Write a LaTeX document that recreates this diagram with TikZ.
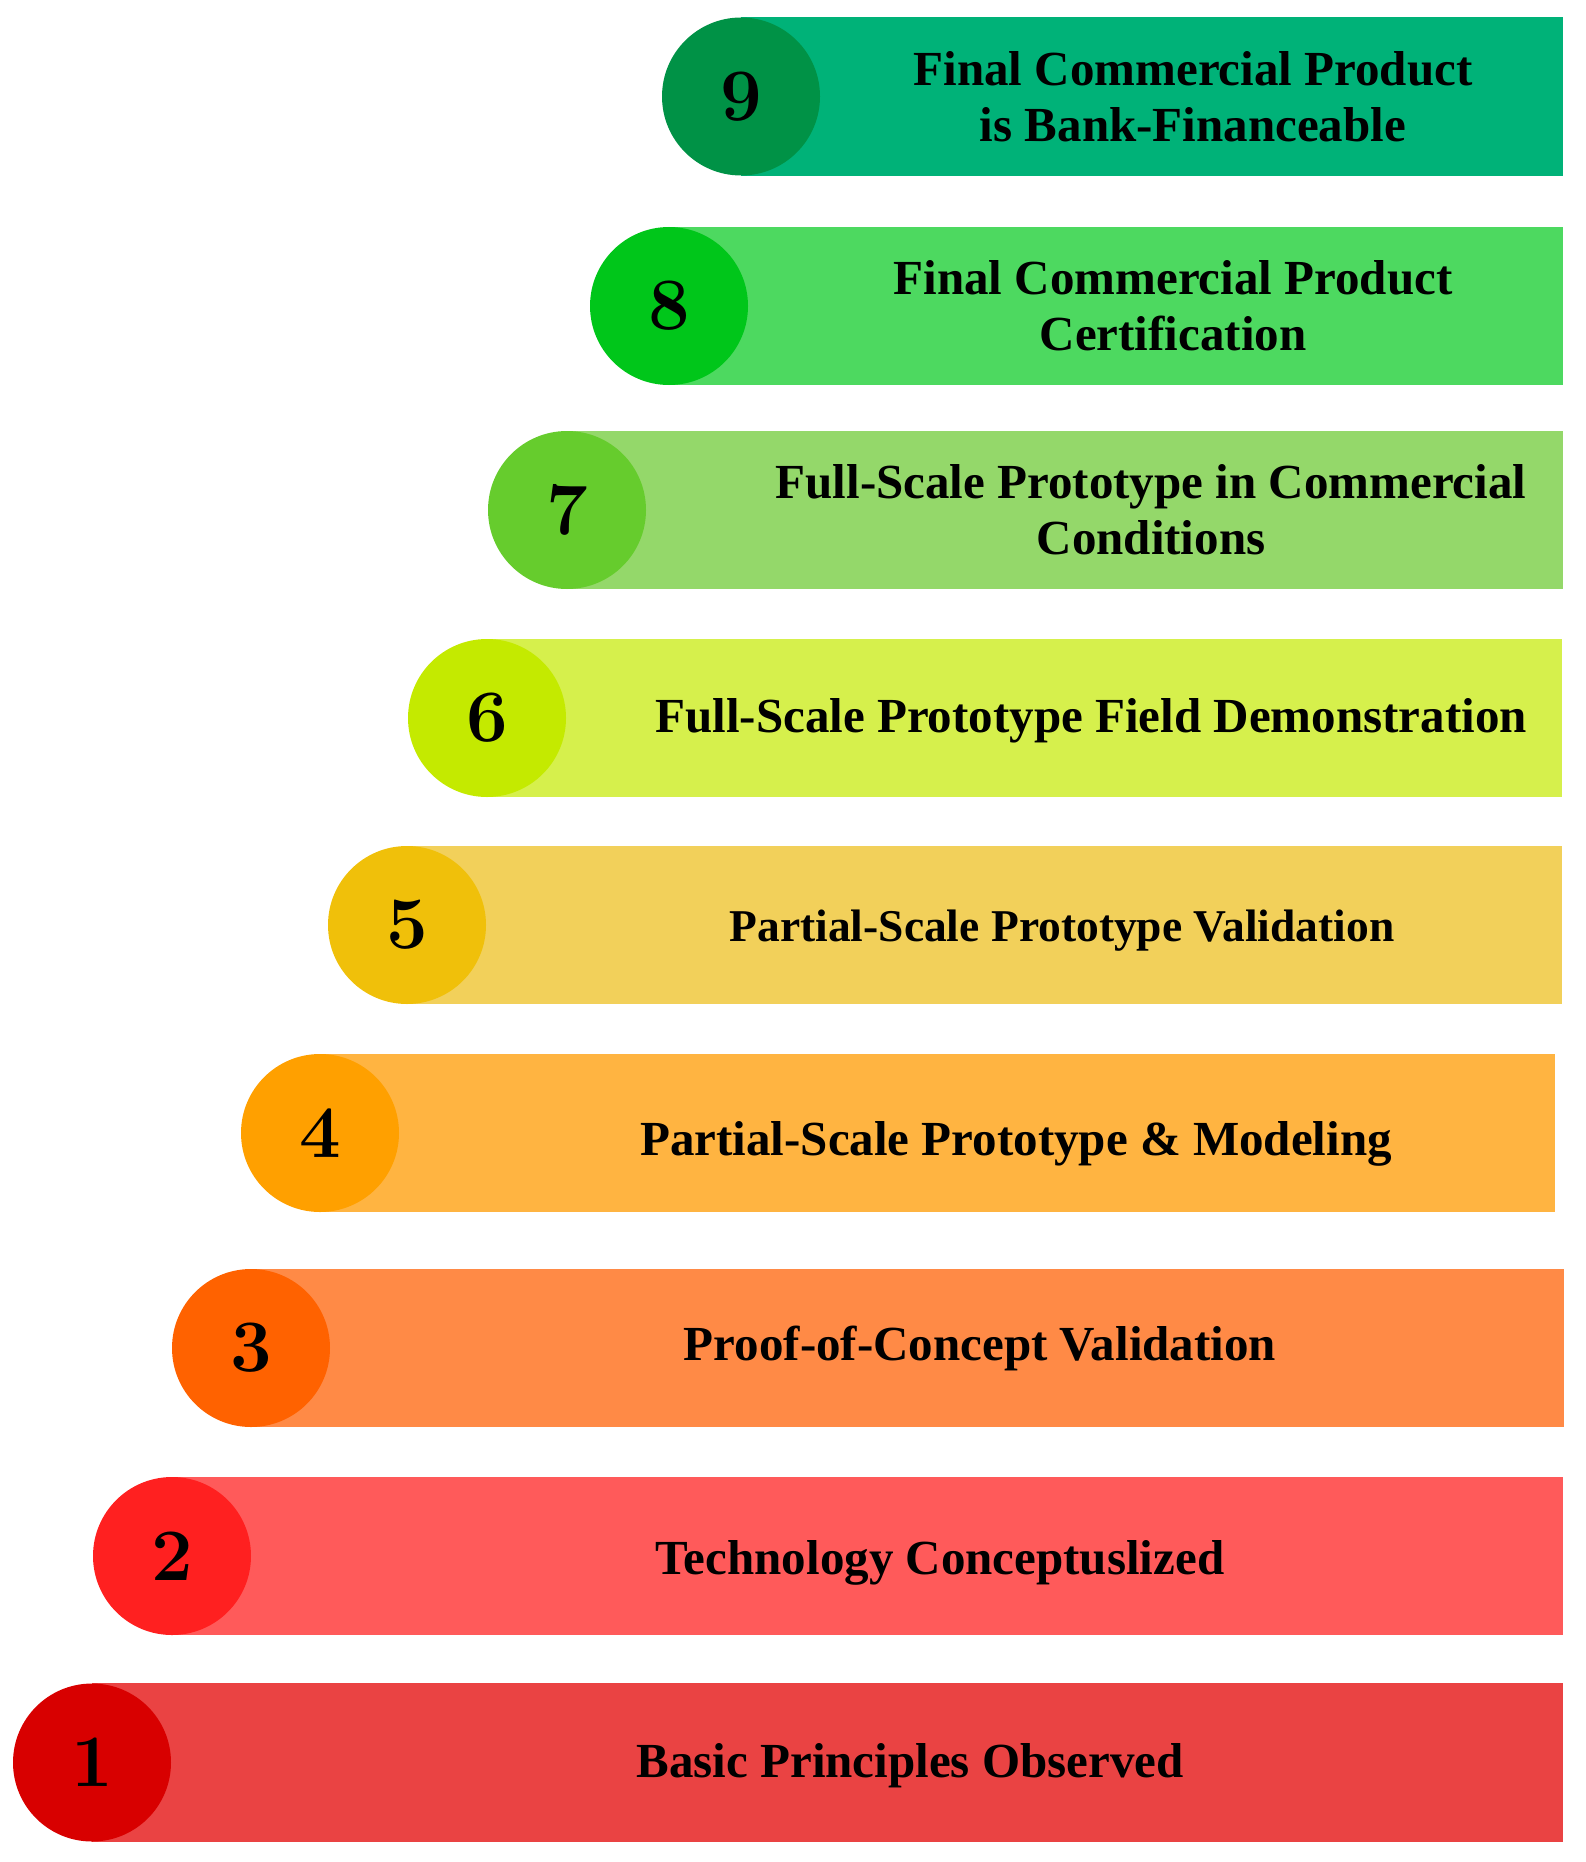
\documentclass[tikz,border=0pt]{standalone}
\usepackage{fontspec}
\newfontfamily\labelfont{Liberation Serif}
\definecolor{barA}{HTML}{EA4343}\definecolor{cirA}{HTML}{D80000}
\definecolor{barB}{HTML}{FF5A5A}\definecolor{cirB}{HTML}{FF2020}
\definecolor{barC}{HTML}{FF8A46}\definecolor{cirC}{HTML}{FF6200}
\definecolor{barD}{HTML}{FFB441}\definecolor{cirD}{HTML}{FFA000}
\definecolor{barE}{HTML}{F2D05A}\definecolor{cirE}{HTML}{F0C00A}
\definecolor{barF}{HTML}{D6F04C}\definecolor{cirF}{HTML}{C4EA00}
\definecolor{barG}{HTML}{94D86A}\definecolor{cirG}{HTML}{66CC2D}
\definecolor{barH}{HTML}{4DD960}\definecolor{cirH}{HTML}{00C61A}
\definecolor{barI}{HTML}{00B278}\definecolor{cirI}{HTML}{009246}
\tikzset{
  numcircle/.style={circle, minimum size=158pt, inner sep=0pt, font=\fontsize{74}{74}\selectfont\bfseries},
  stagelabel/.style={align=center, inner sep=0pt}
}
\begin{document}
\begin{tikzpicture}[x=1pt,y=-1pt]
\useasboundingbox (0,0) rectangle (1586,1862);
% row data: name, top, bottom, circle left, right, bar colour, circle colour, text x, text dy, font size, text
\foreach \n/\t/\b/\l/\r/\bc/\cc/\tx/\dy/\fs/\txt in {
  9/17/176/662/1563/barI/cirI/1193/0/49/{Final Commercial Product\\is Bank-Financeable},
  8/227/385/590/1563/barH/cirH/1173/0/49/{Final Commercial Product\\Certification},
  7/431/589/488/1563/barG/cirG/1151/0/49/{Full-Scale Prototype in Commercial\\Conditions},
  6/639/797/408/1562/barF/cirF/1091/3/49/{Full-Scale Prototype Field Demonstration},
  5/846/1004/328/1562/barE/cirE/1062/6/45.5/{Partial-Scale Prototype Validation},
  4/1054/1212/241/1555/barD/cirD/1016/11/49/{Partial-Scale Prototype \& Modeling},
  3/1269/1427/172/1564/barC/cirC/980/0/49/{Proof-of-Concept Validation},
  2/1477/1635/93/1563/barB/cirB/940/7/49/{Technology Conceptuslized},
  1/1683/1842/13/1563/barA/cirA/910/3/49/{Basic Principles Observed}}{
  \pgfmathsetmacro{\cx}{\l+79}
  \pgfmathsetmacro{\cy}{(\t+\b)/2}
  \fill[\bc] (\cx,\t) rectangle (\r,\b);
  \node[numcircle, fill=\cc] (c\n) at (\cx,\cy) {\n};
  \node[stagelabel, font=\labelfont\fontsize{\fs}{56}\selectfont\bfseries] (t\n) at (\tx,\cy+\dy) {\txt};
}
\end{tikzpicture}
\end{document}
